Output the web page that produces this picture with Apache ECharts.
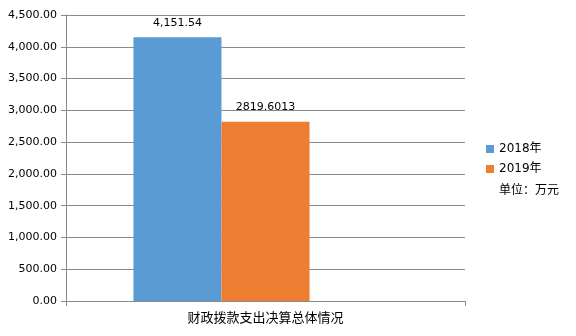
<!DOCTYPE html>
<html><head><meta charset="utf-8">
<script src="https://cdn.jsdelivr.net/npm/echarts@6/dist/echarts.min.js"></script>
<style>html,body{margin:0;padding:0;background:#fff}#c{width:576px;height:336px}</style>
</head><body><div id="c"></div>
<script>
const categories = ['财政拨款支出决算总体情况'];
const seriesNames = ['2018年', '2019年', '单位：万元'];
const values2018 = [4151.54];
const values2019 = [2819.6013];
const valuesUnit = [null];
const labels2018 = ['4,151.54'];
const labels2019 = ['2819.6013'];
const colors = ['#5B9BD5', '#ED7D31', '#A5A5A5'];

const font = 'DejaVu Sans';
const cjk = '"DejaVu Sans", "Noto Sans CJK SC"';
const fmtAxis = v => v.toLocaleString('en-US', {minimumFractionDigits: 2, maximumFractionDigits: 2});

const chart = echarts.init(document.getElementById('c'), null, {renderer: 'canvas'});
function lbl(arr) {
  return {show: true, position: 'top', distance: 9, color: '#000', fontFamily: font, fontSize: 11,
    formatter: p => arr[p.dataIndex]};
}
chart.setOption({
  animation: false,
  color: colors,
  grid: {left: 66, right: 111, top: 15, bottom: 35},
  legend: {
    orient: 'vertical', left: 481, top: 138, itemWidth: 8, itemHeight: 8, itemGap: 8,
    textStyle: {fontFamily: cjk, fontSize: 12, color: '#000'},
    data: [
      {name: seriesNames[0], icon: 'rect'},
      {name: seriesNames[1], icon: 'rect'},
      {name: seriesNames[2], icon: 'none', textStyle: {fontFamily: 'Noto Sans CJK SC', fontSize: 12, color: '#000'}}
    ]
  },
  xAxis: {
    type: 'category', data: categories,
    axisLine: {lineStyle: {color: '#898989'}},
    axisTick: {show: true, length: 5, lineStyle: {color: '#898989'}},
    axisLabel: {fontFamily: cjk, fontSize: 13, color: '#000', margin: 11}
  },
  yAxis: {
    type: 'value', min: 0, max: 4500, interval: 500,
    axisLine: {show: true, lineStyle: {color: '#898989'}},
    axisTick: {show: true, length: 5, lineStyle: {color: '#898989'}},
    splitLine: {lineStyle: {color: '#898989'}},
    axisLabel: {fontFamily: font, fontSize: 11, color: '#000', margin: 9, formatter: fmtAxis}
  },
  series: [
    {name: seriesNames[0], type: 'bar', data: values2018, barGap: '0%', barCategoryGap: '33.8%', label: lbl(labels2018)},
    {name: seriesNames[1], type: 'bar', data: values2019, barGap: '0%', barCategoryGap: '33.8%', label: lbl(labels2019)},
    {name: seriesNames[2], type: 'bar', data: valuesUnit, barGap: '0%', barCategoryGap: '33.8%'}
  ]
});
</script></body></html>
